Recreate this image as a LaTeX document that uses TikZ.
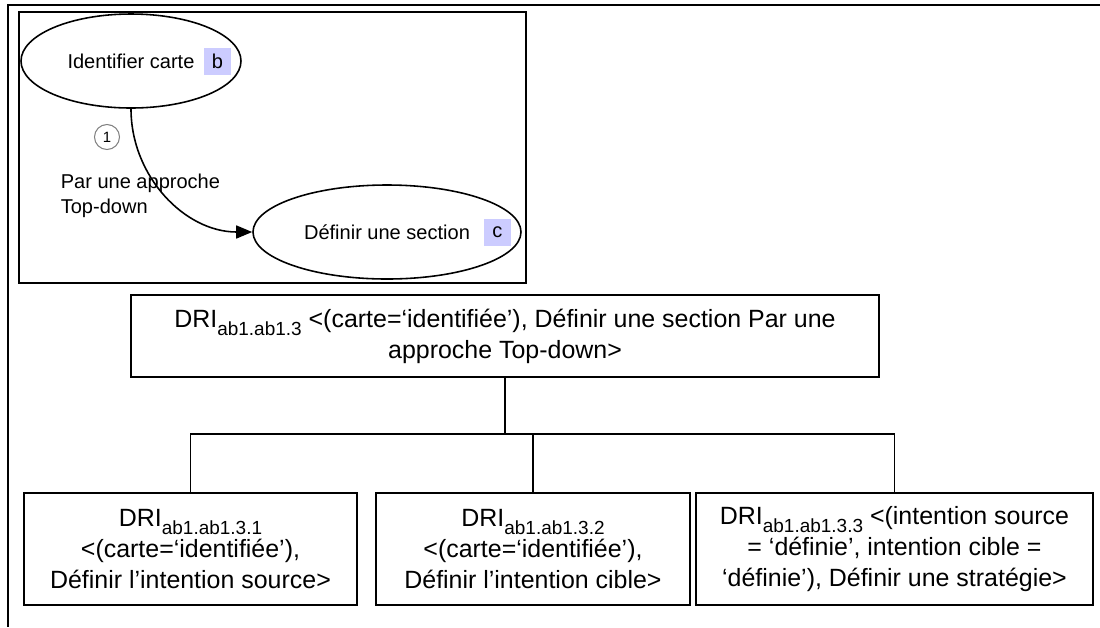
\documentclass[tikz,border=0pt]{standalone}
\usepackage{fontspec}
\setmainfont{Liberation Sans}
\usetikzlibrary{arrows.meta, positioning, shapes.geometric}
\def\px{0.02cm}
\definecolor{tagblue}{RGB}{204,204,255}
\newcommand{\bigtext}{\fontsize{14.2}{17.6}\selectfont}
\newcommand{\smalltext}{\fontsize{11.4}{14.2}\selectfont}
% subscript of the DRI labels
\newcommand{\drisub}[1]{\raisebox{-4.5pt}{\fontsize{10.8}{12}\selectfont #1}}

\begin{document}
\begin{tikzpicture}[
    x=\px, y=-\px,
    line width=0.9pt,
    >={Triangle[length=3.2mm,width=2.6mm]},
    goal/.style={ellipse, draw, minimum height=94*\px, font=\smalltext},
    tag/.style={fill=tagblue, minimum size=27*\px, inner sep=0pt, font=\smalltext},
    dri/.style={rectangle, draw, align=center, font=\bigtext, inner sep=0pt, minimum height=112*\px}
]
\useasboundingbox (0,0) rectangle (1100,627);
% frame
\draw[line width=1.2pt] (1100,5) -- (8,5) -- (8,627);

% map
\draw (19,12) rectangle (526,283);
\node[goal, minimum width=220*\px] (ident) at (131,61) {Identifier carte};
\node[tag, left=0.2cm of ident.east] (tagb) {b};
\node[goal, minimum width=268*\px] (defsec) at (387,232) {Définir une section};
\node[tag, left=0.2cm of defsec.east] (tagc) {c};
\draw[->] (ident.south) to[out=-90, in=180] (defsec.west);
\node[circle, draw=gray, line width=0.6pt, minimum size=25*\px, inner sep=0pt,
      font=\fontsize{8.5}{10}\selectfont] (num) at (107,137) {1};
\node[align=left, anchor=west, font=\smalltext, inner sep=0pt] (strat) at (60,196)
    {Par une approche\\Top-down};

% DRI tree
\node[dri, minimum width=748*\px, minimum height=82*\px] (dri13) at (505,336)
    {DRI\drisub{ab1.ab1.3} <(carte=‘identifiée’), Définir une section Par une\\approche Top-down>};
\node[dri, minimum width=333*\px] (dri131) at (190.5,549)
    {DRI\drisub{ab1.ab1.3.1}\\<(carte=‘identifiée’),\\Définir l’intention source>};
\node[dri, minimum width=314*\px] (dri132) at (533,549)
    {DRI\drisub{ab1.ab1.3.2}\\<(carte=‘identifiée’),\\Définir l’intention cible>};
\node[dri, minimum width=397*\px] (dri133) at (894.5,549)
    {DRI\drisub{ab1.ab1.3.3} <(intention source\\= ‘définie’, intention cible =\\‘définie’), Définir une stratégie>};
\coordinate (fork) at (505,434);
\draw (dri13) -- (fork);
\draw (dri131.north) |- (fork) -| (dri133.north);
\draw (fork -| dri132.north) -- (dri132.north);
\end{tikzpicture}
\end{document}
